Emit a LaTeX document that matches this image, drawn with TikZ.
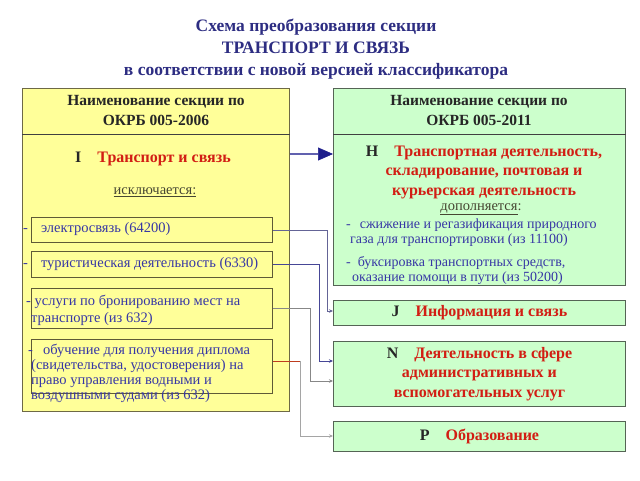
\documentclass[tikz,border=0pt]{standalone}
\usepackage{fontspec}
\setmainfont{Liberation Serif}
\usetikzlibrary{arrows.meta}
\definecolor{titleblue}{RGB}{45,45,130}
\definecolor{lfill}{RGB}{255,255,153}
\definecolor{lborder}{RGB}{110,105,70}
\definecolor{gfill}{RGB}{204,255,204}
\definecolor{gborder}{RGB}{85,100,85}
\definecolor{iborder}{RGB}{95,90,55}
\definecolor{redtxt}{RGB}{210,30,20}
\definecolor{itemblue}{RGB}{55,55,165}
\definecolor{undertxt}{RGB}{70,70,50}
\definecolor{arrnavy}{RGB}{30,30,140}
\definecolor{cA}{RGB}{100,100,150}
\definecolor{cB}{RGB}{70,70,150}
\definecolor{cC}{RGB}{135,135,135}
\definecolor{cD}{RGB}{190,60,30}
\definecolor{cE}{RGB}{165,165,165}
\tikzset{
  lbox/.style={draw=lborder, fill=lfill, line width=0.9pt, inner sep=0pt, anchor=north west},
  gbox/.style={draw=gborder, fill=gfill, line width=0.9pt, inner sep=0pt, anchor=north west},
  ibox/.style={draw=iborder, line width=0.9pt, inner sep=0pt, anchor=north west},
  sepline/.style={draw=black!75, line width=0.9pt},
  ttl/.style={font=\bfseries\fontsize{17.5}{22}\selectfont, text=titleblue, align=center},
  hdr/.style={font=\bfseries\fontsize{15.5}{20}\selectfont, align=center, text=black!85},
  sect/.style={font=\bfseries\fontsize{16}{19.5}\selectfont, align=center, text=redtxt},
  und/.style={font=\fontsize{14.5}{16}\selectfont, text=undertxt},
  itm/.style={font=\fontsize{14.5}{15}\selectfont, text=itemblue, align=left, inner sep=0pt},
  conn/.style={line width=0.7pt, -{Stealth[length=4pt,width=3.5pt]}},
  bigarrow/.style={draw=arrnavy, double=arrnavy!70, double distance=1.2pt, line width=0.7pt,
     -{Triangle[length=15pt,width=13pt,fill=arrnavy]}}
}
\begin{document}
\begin{tikzpicture}[x=1pt,y=-1pt]
\useasboundingbox (0,0) rectangle (640,480);

\node[ttl] (title) at (316,49) {Схема преобразования секции\\ТРАНСПОРТ И СВЯЗЬ\\в соответствии с новой версией классификатора};

% left box
\node[lbox, minimum width=267pt, minimum height=323pt] (L) at (22,88) {};
\node[hdr] (lh) at (156,110.5) {Наименование секции по\\ОКРБ 005-2006};
\draw[sepline] (L.west |- 0,134) -- (L.east |- 0,134);
\node[sect] (ls) at (153,159) {\textcolor{black!85}{I}\quad Транспорт и связь};
\node[und] (excl) at (155,192) {\underline{исключается:}};

\node[ibox, minimum width=241pt, minimum height=25pt] (b1) at (31,217) {};
\node[ibox, minimum width=241pt, minimum height=26pt] (b2) at (31,251) {};
\node[ibox, minimum width=241pt, minimum height=40pt] (b3) at (31,288) {};
\node[ibox, minimum width=241pt, minimum height=54pt] (b4) at (31,339) {};

\node[itm, anchor=west] (t1) at (23,229.5) {-\hspace{13pt}электросвязь (64200)};
\node[itm, anchor=west] (t2) at (23,264) {-\hspace{13pt}туристическая деятельность (6330)};
\node[itm, anchor=north west, font=\fontsize{14.5}{17.5}\selectfont] (t3) at (26,294.5) {- услуги по бронированию мест на\\\hspace{5pt}транспорте (из 632)};
\node[itm, anchor=north west] (t4) at (28,343.5) {-\hspace{10pt}обучение для получения диплома\\\hspace{3pt}(свидетельства, удостоверения) на\\\hspace{3pt}право управления водными и\\\hspace{3pt}воздушными судами (из 632)};

% right boxes
\node[gbox, minimum width=292pt, minimum height=197pt] (H) at (333,88) {};
\node[hdr] (rh) at (479,110.5) {Наименование секции по\\ОКРБ 005-2011};
\draw[sepline] (H.west |- 0,134) -- (H.east |- 0,134);
\node[sect] (hs) at (484,172) {\textcolor{black!85}{Н}\quad Транспортная деятельность,\\складирование, почтовая и\\курьерская деятельность};
\node[und] (add) at (481,209) {\underline{дополняется}:};
\node[itm, anchor=north west, font=\fontsize{14}{15}\selectfont] (h1) at (346,219) {-\hspace{9pt}сжижение и регазификация природного\\\hspace{4pt}газа для транспортировки (из 11100)};
\node[itm, anchor=north west, font=\fontsize{14}{15}\selectfont] (h2) at (346,256) {-\hspace{7pt}буксировка транспортных средств,\\\hspace{6pt}оказание помощи в пути (из 50200)};

\node[gbox, minimum width=292pt, minimum height=25pt] (J) at (333,300) {};
\node[sect] at (J.center) {\textcolor{black!85}{J}\quad Информация и связь};
\node[gbox, minimum width=292pt, minimum height=65pt] (N) at (333,341) {};
\node[sect] at (N.center) {\textcolor{black!85}{N}\quad Деятельность в сфере\\административных и\\вспомогательных услуг};
\node[gbox, minimum width=292pt, minimum height=30pt] (P) at (333,421) {};
\node[sect] at (P.center) {\textcolor{black!85}{P}\quad Образование};

% connectors
\draw[bigarrow] (L.east |- 0,154) -- (H.west |- 0,154);
\draw[conn, draw=cA] (b1.east) -| (327,311) -- (J.west |- 0,311);
\draw[conn, draw=cB] (b2.east) -| (319,361) -- (N.west |- 0,361);
\draw[conn, draw=cC] (b3.east) -| (310,381) -- (N.west |- 0,381);
\draw[line width=0.7pt, draw=cD] (b4.east |- 0,361) -- (300,361);
\draw[conn, draw=cE] (300,361) |- (P.west |- 0,436);
\end{tikzpicture}
\end{document}
